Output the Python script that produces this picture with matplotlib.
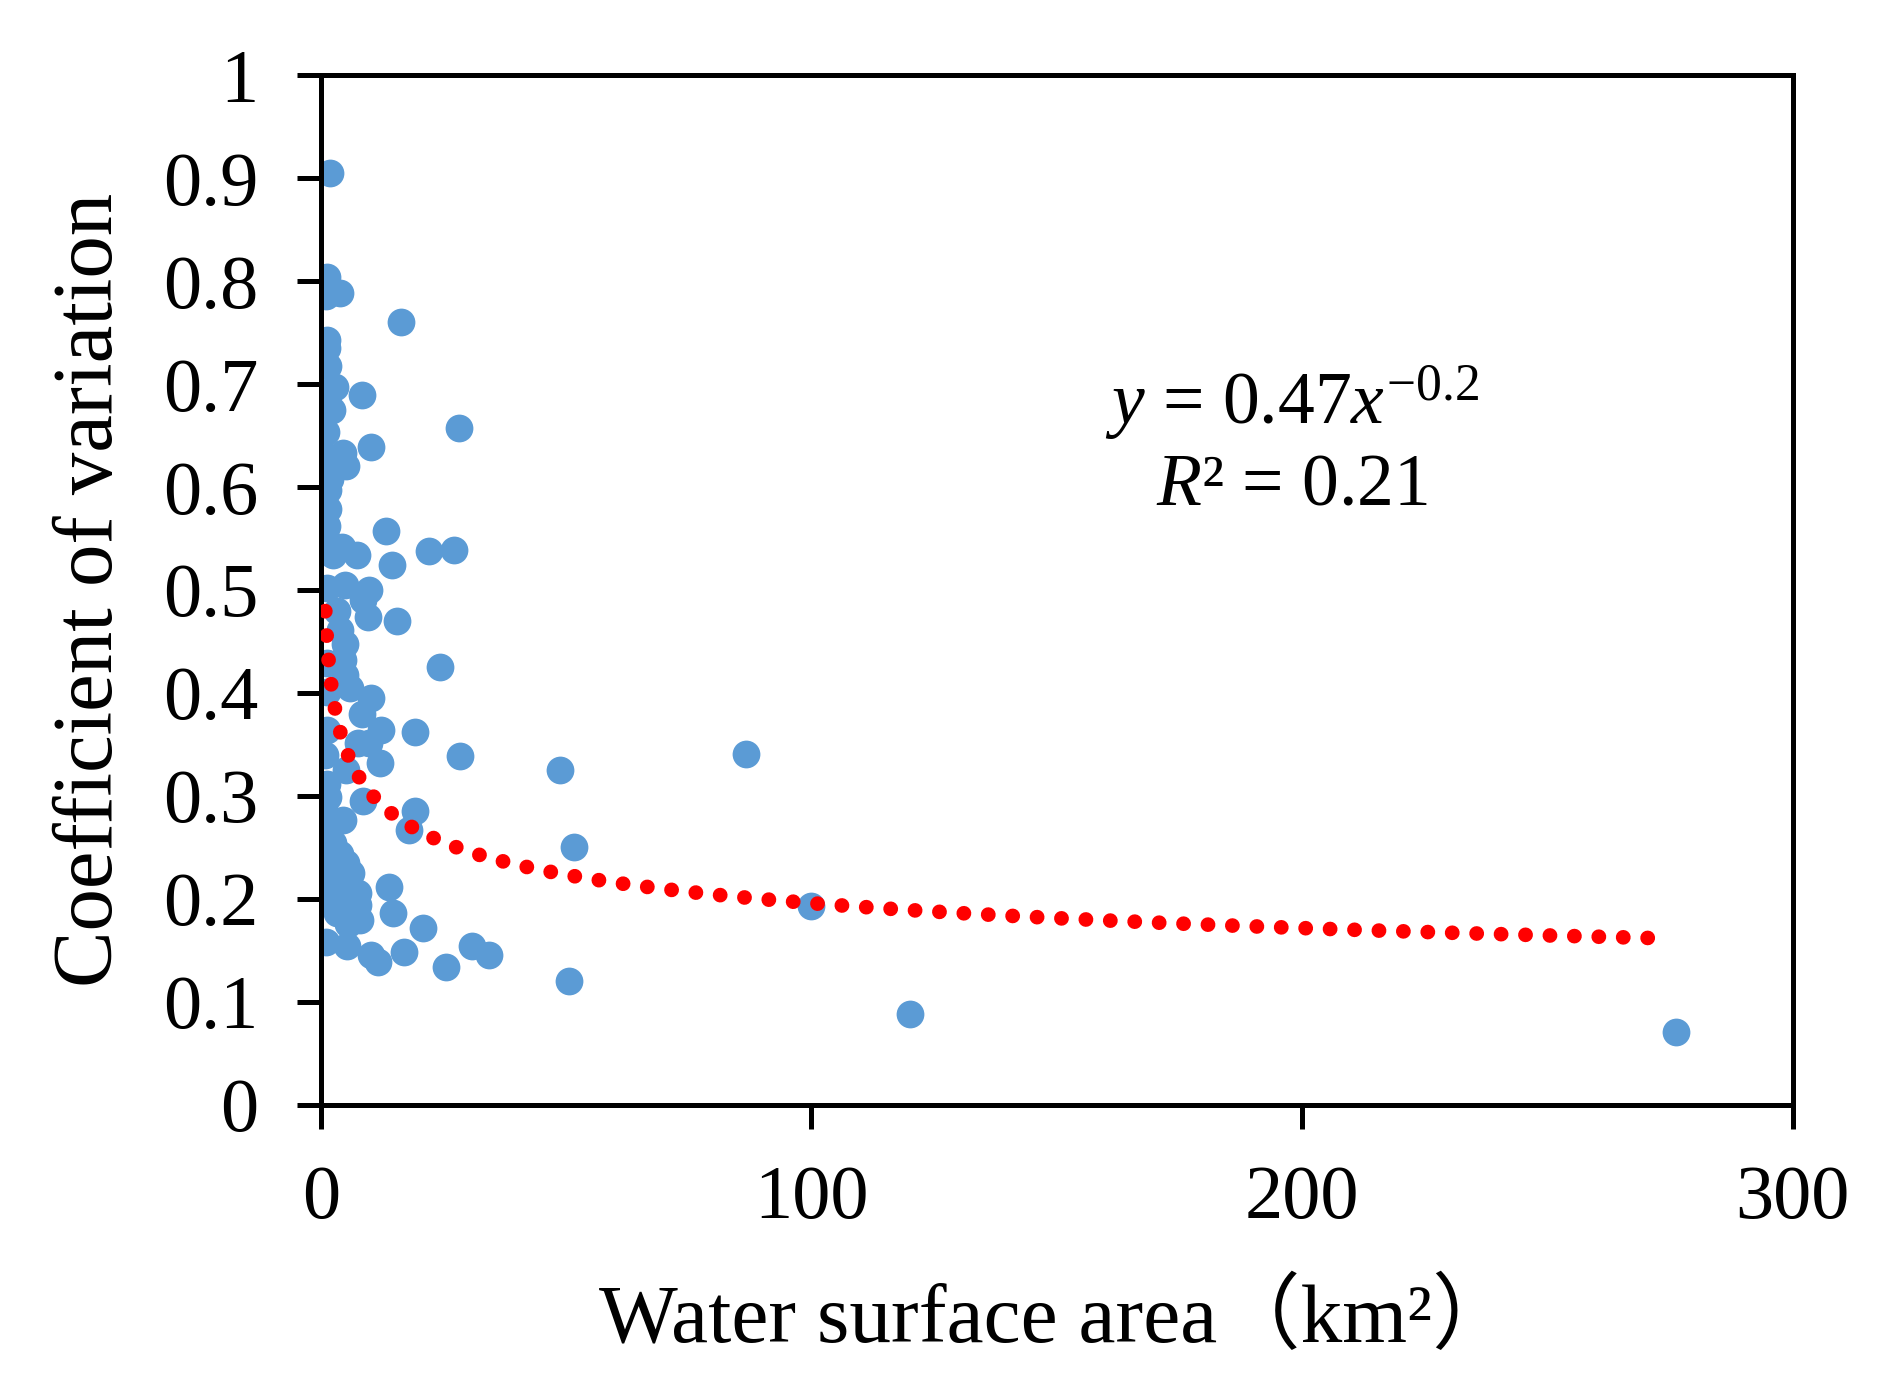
import numpy as np
import matplotlib
matplotlib.use("Agg")
import matplotlib.pyplot as plt

# scatter of lake area vs coefficient of variation
area = [1.8, 1.2, 1.0, 3.9, 16.4, 1.3, 1.3, 1.5, 2.8, 8.3, 1.2, 2.2, 0.8, 1.0, 10.3,
        1.0, 4.5, 5.1, 1.8, 1.5, 1.5, 1.3, 1.3, 4.2, 13.3, 22.1, 27.1, 28.1, 14.4, 7.3,
        1.2, 2.5,
        1.2, 4.9, 9.9, 8.6, 9.6, 15.6, 3.2, 3.9, 4.9, 1.2, 4.5, 4.9, 1.2, 5.9, 10.3,
        8.3, 12.3, 1.2, 19.1, 24.2, 9.9, 7.6, 0.8, 12.0, 5.2, 1.2, 1.5, 8.6, 28.4,
        48.7, 86.6, 51.6,
        1.5, 4.5, 19.1, 18.0, 1.2, 2.5, 3.9, 1.5, 5.2, 6.2, 1.8, 4.5, 7.6, 2.5, 5.9,
        7.6, 3.2, 7.9, 5.5, 13.9, 14.7, 20.8, 1.0, 5.4, 10.3, 11.6, 16.9, 25.4, 30.8,
        34.2, 50.6, 100.0, 120.0, 276.3]
cv = [0.905, 0.804, 0.785, 0.788, 0.760, 0.743, 0.735, 0.717, 0.697, 0.689, 0.684,
      0.675, 0.672, 0.653, 0.639, 0.630, 0.633, 0.620, 0.608, 0.597, 0.579, 0.562,
      0.549, 0.542, 0.557, 0.538, 0.539, 0.657, 0.524, 0.534, 0.537, 0.534,
      0.502, 0.505, 0.500, 0.490, 0.474, 0.470, 0.480, 0.461, 0.448, 0.429, 0.432,
      0.417, 0.401, 0.405, 0.395, 0.380, 0.364, 0.364, 0.362, 0.425, 0.351, 0.351,
      0.340, 0.332, 0.325, 0.312, 0.299, 0.295, 0.339, 0.325, 0.341, 0.250,
      0.280, 0.277, 0.285, 0.267, 0.261, 0.254, 0.244, 0.235, 0.235, 0.225, 0.218,
      0.212, 0.206, 0.199, 0.196, 0.194, 0.186, 0.180, 0.176, 0.212, 0.186, 0.172,
      0.158, 0.154, 0.146, 0.139, 0.149, 0.134, 0.154, 0.146, 0.120, 0.193, 0.088,
      0.071]

# power trend line y = a * x^b
fit_a = 0.47
fit_b = -0.19
fit_range = [0.9, 272]

yticks = [0, 0.1, 0.2, 0.3, 0.4, 0.5, 0.6, 0.7, 0.8, 0.9, 1.0]
ytick_labels = ["0", "0.1", "0.2", "0.3", "0.4", "0.5", "0.6", "0.7", "0.8", "0.9", "1"]
xticks = [0, 100, 200, 300]

plt.rcParams["font.family"] = ["Liberation Serif", "Noto Sans CJK SC"]
plt.rcParams["mathtext.fontset"] = "custom"
plt.rcParams["mathtext.rm"] = "Liberation Serif"
plt.rcParams["mathtext.it"] = "Liberation Serif:italic"

fig = plt.figure(figsize=(9.4, 6.92), dpi=200)
ax = fig.add_axes([0.1707, 0.2016, 0.7828, 0.7442])

ax.scatter(area, cv, s=100, color="#5B9BD5", linewidths=0, zorder=2)

xs = np.linspace(fit_range[0], fit_range[1], 2000)
ax.plot(xs, fit_a * xs ** fit_b, color="#FF0000", linewidth=5.3,
        linestyle=(0, (0.01, 1.65)), dash_capstyle="round", zorder=3)

ax.set_xlim(0, 300)
ax.set_ylim(0, 1)
ax.set_xticks(xticks)
ax.set_yticks(yticks)
ax.set_yticklabels(ytick_labels)

for sp in ax.spines.values():
    sp.set_linewidth(1.8)
    sp.set_color("black")
ax.tick_params(direction="out", length=8.5, width=1.8, labelsize=27.5)
ax.tick_params(axis="x", pad=13)
ax.tick_params(axis="y", pad=14)

ax.set_ylabel("Coefficient of variation", fontsize=30.5, labelpad=12)
ax.set_xlabel("Water surface area（km²）", fontsize=30, labelpad=17)

ax.text(198, 0.682, r"$y$ = 0.47$x^{-0.2}$", fontsize=26.5, ha="center", va="center")
ax.text(198, 0.600, r"$R$² = 0.21", fontsize=26.5, ha="center", va="center")

fig.savefig("out.png", dpi=200)
